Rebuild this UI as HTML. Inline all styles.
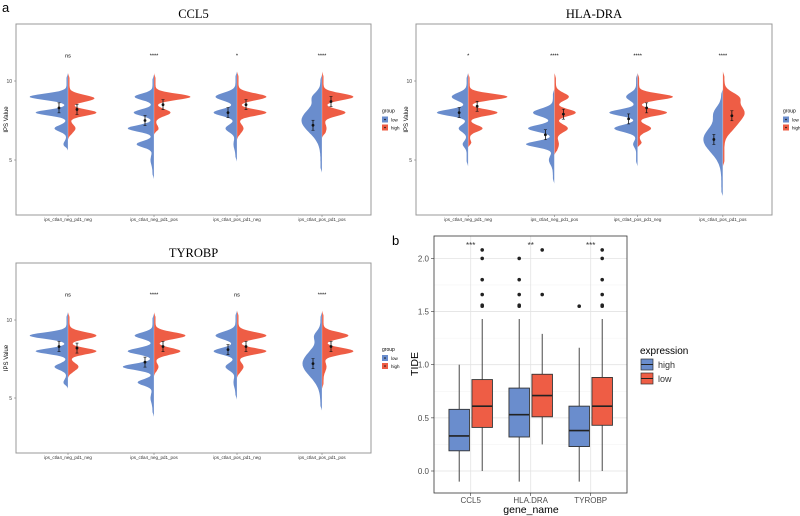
<!DOCTYPE html>
<html><head><meta charset="utf-8">
<style>
html,body{margin:0;padding:0;background:#fff;width:800px;height:516px;overflow:hidden}
svg{display:block;font-family:"Liberation Sans",sans-serif}
</style></head>
<body>
<svg id="fig" width="800" height="516" viewBox="0 0 800 516" xmlns="http://www.w3.org/2000/svg">
<text x="2" y="12" font-size="13">a</text>
<text x="392" y="245" font-size="13">b</text>
</svg>
<script>
// ---------- Violin data ----------
const violinCategories = ["ips_ctla4_neg_pd1_neg","ips_ctla4_neg_pd1_pos","ips_ctla4_pos_pd1_neg","ips_ctla4_pos_pd1_pos"];
const violinTitles = ["CCL5","HLA-DRA","TYROBP"];
// peaks: [center value, half-width amplitude (density), spread]
const ccl5Low = [[[9,37,.2],[8,31,.18],[7,12,.2],[6,3,.2]],[[9,18,.2],[8,19,.2],[7,25,.2],[6,16,.2],[5,2,.3]],[[9,20,.25],[8,22,.22],[7,10,.25],[6,2,.3]],[[7.5,19,.75],[9,6,.3]]];
const ccl5High = [[[8.9,25,.22],[8,27,.2],[7,6,.25]],[[9,35,.2],[8,15,.22],[7,3,.2]],[[9,28,.22],[8,28,.2],[7,5,.25]],[[9,30,.22],[8,22,.22],[7,3,.3]]];
const ccl5Range = [[[5.6,10.5],[6.3,10.5]],[[3.8,10.4],[6.6,10.5]],[[4.9,10.6],[6.3,10.6]],[[4.2,10.4],[6.4,10.6]]];
const ccl5Means = [[8.3,8.2],[7.5,8.5],[8.0,8.5],[7.2,8.7]];
const hlaLow = [[[9,15,.25],[8,30,.2],[7,8,.22],[6,4,.2]],[[8,20,.25],[7,25,.22],[6,27,.2],[5,4,.3]],[[9,10,.25],[8,27,.2],[7,22,.22],[6,3,.2]],[[6.3,18,.8],[8,6,.4]]];
const hlaHigh = [[[9,38,.2],[8,28,.2],[7,13,.2],[6,2,.2]],[[9,13,.25],[8,20,.22],[7,12,.25],[6,3,.3]],[[9,34,.2],[8,28,.2],[7,12,.22],[6,3,.2]],[[8,20,.6],[9,10,.3],[7,5,.4]]];
const hlaRange = [[[4.6,10.5],[5.8,10.5]],[[3.5,9.5],[5.3,10.5]],[[4.6,10.5],[5.8,10.5]],[[2.7,9.5],[4.6,10.6]]];
const hlaMeans = [[8.0,8.4],[6.6,7.9],[7.6,8.3],[6.3,7.8]];
const tyrLow = [[[9,37,.2],[8,31,.18],[7,12,.2],[6,3,.2]],[[9,18,.2],[8,25,.2],[7,30,.2],[6,15,.2],[5,2,.3]],[[9,20,.25],[8,22,.22],[7,10,.25],[6,2,.3]],[[7.2,18,.8],[9,5,.3]]];
const tyrHigh = [[[9,27,.22],[8,27,.2],[7,9,.25],[6,3,.2]],[[9,30,.22],[8,25,.22],[7,3,.2]],[[9,28,.22],[8,28,.2],[7,5,.25]],[[9,25,.22],[8,30,.22],[7,3,.3]]];
const tyrRange = [[[5.6,10.5],[6.3,10.5]],[[3.8,10.4],[6.4,10.5]],[[4.9,10.6],[6.3,10.6]],[[4.2,10.5],[5.6,10.6]]];
const tyrMeans = [[8.3,8.2],[7.3,8.3],[8.1,8.3],[7.2,8.3]];
const violinSig = [["ns","****","*","****"],["*","****","****","****"],["ns","****","ns","****"]];
const violinTicks = [5,10];

// ---------- Box plot data ----------
const boxGenes = ["CCL5","HLA.DRA","TYROBP"];
const boxHigh = [[-0.1,0.19,0.33,0.58,1.0],[-0.1,0.32,0.53,0.78,1.43],[-0.1,0.23,0.38,0.61,1.16]];
const boxLow = [[0.0,0.41,0.61,0.86,1.43],[0.25,0.51,0.71,0.91,1.29],[0.0,0.43,0.61,0.88,1.43]];
const outHigh = [[],[1.55,1.56,1.66,1.8,2.0],[1.55]];
const outLow = [[1.55,1.56,1.66,1.8,2.0,2.08],[1.66,2.08],[1.55,1.56,1.66,1.8,2.0,2.08]];
const boxSig = ["***","**","***"];
const boxTicks = [0,0.5,1.0,1.5,2.0];

const NS="http://www.w3.org/2000/svg";
const svg=document.getElementById('fig');
const BLUE="#6a8dcd", RED="#ee5d45";
function mk(tag,attrs,parent){const e=document.createElementNS(NS,tag);for(const k in attrs)e.setAttribute(k,attrs[k]);(parent||svg).appendChild(e);return e;}
function txt(x,y,s,size,attrs,parent){const t=mk('text',Object.assign({x:x,y:y,'font-size':size},attrs||{}),parent);t.textContent=s;return t;}

function density(peaks,v){let d=0;for(const p of peaks)d+=p[1]*Math.exp(-Math.pow(v-p[0],2)/(2*p[2]*p[2]));return d;}

function violinPanel(pi,box,low,high,ranges,means,title){
  const g=mk('g',{});
  
  
  const [x0,y0,x1,y1]=box;
  const y10=box[4], y5=box[5];
  const yS=v=>y5+(v-5)*(y10-y5)/5;
  const cx=[68,154,237,322].map(c=>x0+(c-16)*(x1-x0)/355);
  const t=txt((x0+x1)/2,y0-6,title,12.5,{'text-anchor':'middle','font-family':'Liberation Serif, serif'},g);
  
  
  const fr=mk('rect',{x:x0,y:y0,width:x1-x0,height:y1-y0,fill:'#fff',stroke:'#999','stroke-width':1},g);
  
  
  violinTicks.forEach(v=>{
    mk('line',{x1:x0-2,x2:x0,y1:yS(v),y2:yS(v),stroke:'#666','stroke-width':.5},g);
    const tl=txt(x0-4,yS(v)+2,String(v),5,{'text-anchor':'end',fill:'#444'},g);
    
    
  });
  const yl=txt(0,0,'IPS Value',6,{'text-anchor':'middle',transform:`translate(${x0-8},${(y0+y1)/2}) rotate(-90)`},g);
  
  
  violinCategories.forEach((c,i)=>{
    mk('line',{x1:cx[i],x2:cx[i],y1:y1,y2:y1+2,stroke:'#666','stroke-width':.5},g);
    const cl=txt(cx[i],y1+6,c,4.5,{'text-anchor':'middle',fill:'#333'},g);
    
    
    [[low[i],ranges[i][0],-1,BLUE],[high[i],ranges[i][1],1,RED]].forEach(([pk,rg,dir,col],k)=>{
      let pts=[];const n=90;
      for(let j=0;j<=n;j++){const v=rg[0]+(rg[1]-rg[0])*j/n;
        const taper=Math.min(1,(v-rg[0])/0.3,(rg[1]-v)/0.3);
        const w=(density(pk,v)+1.5)*Math.max(0,taper);
        pts.push([cx[i]+dir*w,yS(v)]);}
      let d=`M${cx[i]},${yS(rg[0])} `+pts.map(p=>`L${p[0].toFixed(1)},${p[1].toFixed(1)}`).join(' ')+` L${cx[i]},${yS(rg[1])} Z`;
      const p=mk('path',{d:d,fill:col,stroke:'none'},g);
      
      
      const mx=cx[i]+dir*9, my=yS(means[i][k]);
      mk('line',{x1:mx,x2:mx,y1:my-5,y2:my+5,stroke:'#111','stroke-width':.8},g);
      mk('line',{x1:mx-1.5,x2:mx+1.5,y1:my-5,y2:my-5,stroke:'#111','stroke-width':.6},g);
      mk('line',{x1:mx-1.5,x2:mx+1.5,y1:my+5,y2:my+5,stroke:'#111','stroke-width':.6},g);
      const pt=mk('circle',{cx:mx,cy:my,r:1.4,fill:'#111'},g);
      
      
    });
    mk('line',{x1:cx[i],x2:cx[i],y1:yS(Math.max(ranges[i][0][1],ranges[i][1][1])),y2:yS(Math.min(ranges[i][0][0],ranges[i][1][0])),stroke:'#fff','stroke-width':.4,opacity:.6},g);
    const s=txt(cx[i],yS(11.5),violinSig[pi][i],5.5,{'text-anchor':'middle'},g);
    
    
  });
  const lx=x1+11, ly=(y0+y1)/2-7;
  const lt=txt(lx,ly,'group',5,{},g);
  
  
  [['low',BLUE],['high',RED]].forEach(([n,c],k)=>{
    const r=mk('rect',{x:lx,y:ly+4+k*8,width:6,height:6,fill:c},g);
    
    
    mk('circle',{cx:lx+3,cy:ly+7+k*8,r:.8,fill:'#111'},g);
    txt(lx+9,ly+9+k*8,n,4.5,{},g);
  });
}
violinPanel(0,[16,24,371,215,81,160],ccl5Low,ccl5High,ccl5Range,ccl5Means,'CCL5');
violinPanel(1,[416,24,772,215,81,160],hlaLow,hlaHigh,hlaRange,hlaMeans,'HLA-DRA');
violinPanel(2,[16,263,371,453,320,398],tyrLow,tyrHigh,tyrRange,tyrMeans,'TYROBP');

// ---------- Box plot ----------
(function(){
  const g=mk('g',{});
  
  
  const X0=434,X1=627,Y0=236,Y1=493;
  const yS=v=>471-v*106.3;
  const cx=[470.7,530.7,590.7];
  mk('rect',{x:X0,y:Y0,width:X1-X0,height:Y1-Y0,fill:'#fff'},g);
  for(let v=-0.25;v<=2.25;v+=0.25){
    const major=Math.abs(v*2-Math.round(v*2))<1e-6;
    const yy=yS(v); if(yy<Y0||yy>Y1)continue;
    mk('line',{x1:X0,x2:X1,y1:yy,y2:yy,stroke:major?'#e3e3e3':'#f1f1f1','stroke-width':major?.8:.5},g);
  }
  cx.forEach(c=>mk('line',{x1:c,x2:c,y1:Y0,y2:Y1,stroke:'#e3e3e3','stroke-width':.8},g));
  boxTicks.forEach(v=>{
    mk('line',{x1:X0-3,x2:X0,y1:yS(v),y2:yS(v),stroke:'#333','stroke-width':.6},g);
    const tl=txt(X0-5,yS(v)+3,v.toFixed(1),8,{'text-anchor':'end',fill:'#4d4d4d'},g);
    
    
  });
  boxGenes.forEach((gn,i)=>{
    mk('line',{x1:cx[i],x2:cx[i],y1:Y1,y2:Y1+3,stroke:'#333','stroke-width':.6},g);
    const cl=txt(cx[i],Y1+10,gn,8,{'text-anchor':'middle',fill:'#4d4d4d'},g);
    
    
    [[boxHigh[i],outHigh[i],BLUE,-11.5,'high'],[boxLow[i],outLow[i],RED,11.5,'low']].forEach(([b,o,col,dx,nm])=>{
      const x=cx[i]+dx, w=20.5;
      mk('line',{x1:x,x2:x,y1:yS(b[0]),y2:yS(b[4]),stroke:'#333','stroke-width':.9},g);
      const r=mk('rect',{x:x-w/2,y:yS(b[3]),width:w,height:yS(b[1])-yS(b[3]),fill:col,stroke:'#333','stroke-width':.9},g);
      
      
      mk('line',{x1:x-w/2,x2:x+w/2,y1:yS(b[2]),y2:yS(b[2]),stroke:'#222','stroke-width':1.6},g);
      o.forEach(v=>{
        const c=mk('circle',{cx:x,cy:yS(v),r:1.8,fill:'#222'},g);
        
        
      });
    });
    const s=txt(cx[i],248,boxSig[i],8,{'text-anchor':'middle',fill:'#333'},g);
    
    
  });
  mk('rect',{x:X0,y:Y0,width:X1-X0,height:Y1-Y0,fill:'none',stroke:'#333','stroke-width':.8},g);
  const yt=txt(0,0,'TIDE',10.5,{'text-anchor':'middle',transform:`translate(418,364) rotate(-90)`},g);
  
  
  const xt=txt(531,513,'gene_name',10.5,{'text-anchor':'middle'},g);
  
  
  const lt=txt(640,354,'expression',10,{},g);
  
  
  [['high',BLUE],['low',RED]].forEach(([n,c],k)=>{
    const yy=359+k*14;
    const r=mk('rect',{x:641,y:yy,width:12,height:11,fill:c,stroke:'#333','stroke-width':.7},g);
    
    
    mk('line',{x1:641,x2:653,y1:yy+5.5,y2:yy+5.5,stroke:'#222','stroke-width':1},g);
    const lb=txt(658,yy+9,n,9,{fill:'#333'},g);
    
    
  });
})();
</script>
</body></html>
